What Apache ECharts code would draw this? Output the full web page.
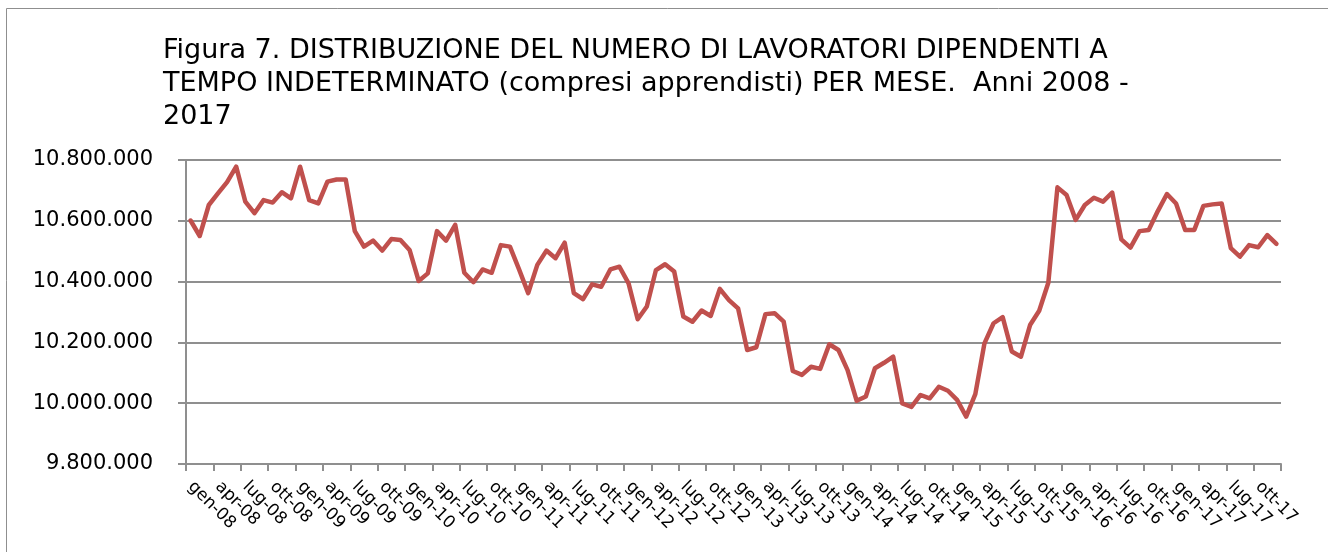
<!DOCTYPE html>
<html>
<head>
<meta charset="utf-8">
<script src="https://cdn.jsdelivr.net/npm/echarts@6/dist/echarts.min.js"></script>
<style>
    html, body { margin: 0; padding: 0; background: #fff; }
    #chart { width: 1328px; height: 552px; }
</style>
</head>
<body>
<div id="chart"></div>
<script>
// mesi e anni dell'asse x
const months = [ 'gen', 'feb', 'mar', 'apr', 'mag', 'giu', 'lug', 'ago', 'set', 'ott', 'nov', 'dic' ];
const years = [ '08', '09', '10', '11', '12', '13', '14', '15', '16', '17' ];

// lavoratori dipendenti a tempo indeterminato, un valore per mese
const workers2008 = [ 10601000, 10550000, 10652000, 10690000, 10727000, 10778000, 10663000, 10625000, 10668000, 10660000, 10694000, 10674000 ];
const workers2009 = [ 10778000, 10668000, 10657000, 10729000, 10736000, 10736000, 10566000, 10515000, 10535000, 10502000, 10540000, 10537000 ];
const workers2010 = [ 10504000, 10402000, 10427000, 10566000, 10535000, 10587000, 10429000, 10398000, 10440000, 10429000, 10520000, 10515000 ];
const workers2011 = [ 10440000, 10362000, 10455000, 10502000, 10477000, 10528000, 10362000, 10342000, 10391000, 10383000, 10440000, 10449000 ];
const workers2012 = [ 10394000, 10276000, 10318000, 10438000, 10457000, 10433000, 10285000, 10268000, 10305000, 10287000, 10376000, 10339000 ];
const workers2013 = [ 10312000, 10175000, 10184000, 10293000, 10296000, 10268000, 10106000, 10093000, 10120000, 10113000, 10194000, 10175000 ];
const workers2014 = [ 10109000, 10008000, 10022000, 10115000, 10133000, 10153000, 9999000, 9988000, 10027000, 10016000, 10054000, 10041000 ];
const workers2015 = [ 10011000, 9956000, 10030000, 10197000, 10263000, 10283000, 10170000, 10153000, 10257000, 10304000, 10396000, 10710000 ];
const workers2016 = [ 10685000, 10603000, 10652000, 10676000, 10663000, 10693000, 10539000, 10512000, 10566000, 10570000, 10632000, 10688000 ];
const workers2017 = [ 10657000, 10570000, 10570000, 10649000, 10654000, 10657000, 10510000, 10482000, 10520000, 10513000, 10553000, 10524000 ];

const categories = [ ];
years.forEach( y => months.forEach( m => categories.push( m + '-' + y ) ) );

const workers = [ ].concat( workers2008, workers2009, workers2010, workers2011, workers2012,
    workers2013, workers2014, workers2015, workers2016, workers2017 );

// separatore delle migliaia all'italiana
const fmt = v => String( v ).replace( /\B(?=(\d{3})+(?!\d))/g, '.' );

const gray = '#8f8f8f';
const font = "'DejaVu Sans', Verdana, sans-serif";

const chart = echarts.init( document.getElementById( 'chart' ), null, { renderer: 'canvas' } );
chart.setOption({
    animation: false,
    textStyle: { fontFamily: font },
    title: {
        text: 'Figura 7. DISTRIBUZIONE DEL NUMERO DI LAVORATORI DIPENDENTI A\nTEMPO INDETERMINATO (compresi apprendisti) PER MESE.  Anni 2008 -\n2017',
        left: 163,
        top: 34,
        padding: 0,
        textStyle: {
            fontFamily: font,
            fontSize: 27,
            fontWeight: 'normal',
            color: '#000',
            lineHeight: 33
        }
    },
    graphic: [
        {
            type: 'rect',
            shape: { x: 6.5, y: 8.5, width: 1400, height: 600 },
            style: { fill: 'none', stroke: gray, lineWidth: 1 },
            silent: true
        }
    ],
    grid: {
        left: 186,
        right: 47,
        top: 160,
        bottom: 88,
        containLabel: false
    },
    xAxis: {
        type: 'category',
        data: categories,
        boundaryGap: true,
        axisLine: { lineStyle: { color: gray, width: 2 } },
        axisTick: { show: true, interval: 2, length: 7, lineStyle: { color: gray, width: 2 } },
        axisLabel: {
            interval: 2,
            rotate: -45,
            margin: 20,
            fontSize: 17,
            fontFamily: font,
            color: '#000'
        },
        splitLine: { show: false }
    },
    yAxis: {
        type: 'value',
        min: 9800000,
        max: 10800000,
        interval: 200000,
        axisLine: { show: true, lineStyle: { color: gray, width: 2 } },
        axisTick: { show: true, length: 8, lineStyle: { color: gray, width: 2 } },
        axisLabel: {
            margin: 33,
            fontSize: 21,
            fontFamily: font,
            color: '#000',
            formatter: fmt
        },
        splitLine: { show: true, lineStyle: { color: gray, width: 2 } }
    },
    series: [
        {
            name: 'Lavoratori',
            type: 'line',
            data: workers,
            symbol: 'none',
            smooth: false,
            lineStyle: { color: '#C0504D', width: 4.5, cap: 'round', join: 'round' }
        }
    ]
});
</script>
</body>
</html>
